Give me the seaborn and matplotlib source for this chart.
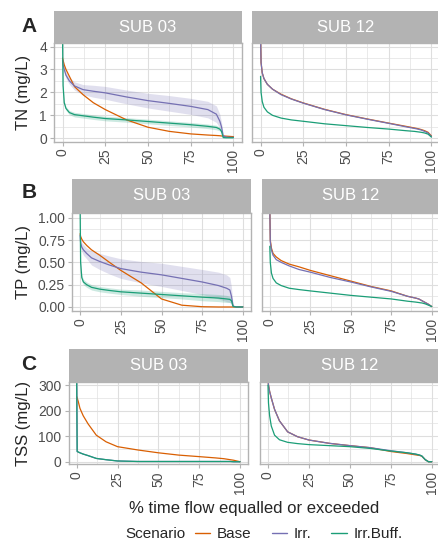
import numpy as np
import pandas as pd
import matplotlib
matplotlib.use('Agg')
import matplotlib.pyplot as plt
import seaborn as sns
from matplotlib.ticker import MultipleLocator
from matplotlib.lines import Line2D

sns.set_style('white')
plt.rcParams['font.family'] = ['Liberation Sans', 'DejaVu Sans']

# % time flow equalled or exceeded (shared grid for all curves)
pct = [0, 0.3, 1, 2, 4, 7, 12, 18, 25, 37.5, 50, 62.5, 75, 85, 90, 92, 93, 94, 96, 98, 100]

scenarios = ['Base', 'Irr.', 'Irr.Buff.']
palette = {'Base': '#D95F02', 'Irr.': '#7570B3', 'Irr.Buff.': '#1B9E77'}
subs = ['SUB 03', 'SUB 12']

# TN (mg/L)
tn_03_base = [3.5, 3.4, 3.2, 3.0, 2.7, 2.25, 1.9, 1.55, 1.25, 0.8, 0.48, 0.3, 0.19, 0.14, 0.12, 0.11, 0.1, 0.1, 0.09, 0.08, 0.07]
tn_03_irr = [3.4, 3.2, 3.0, 2.75, 2.5, 2.28, 2.12, 2.05, 1.98, 1.8, 1.64, 1.52, 1.39, 1.25, 1.05, 0.75, 0.5, 0.1, 0.05, 0.04, 0.04]
tn_03_buff = [4.4, 2.3, 1.55, 1.3, 1.12, 1.03, 0.98, 0.92, 0.86, 0.8, 0.73, 0.66, 0.59, 0.52, 0.47, 0.4, 0.3, 0.03, 0.02, 0.02, 0.02]
tn_03_irr_band = [0.1, 0.12, 0.13, 0.14, 0.15, 0.18, 0.22, 0.26, 0.28, 0.3, 0.32, 0.34, 0.35, 0.36, 0.36, 0.3, 0.2, 0.05, 0, 0, 0]
tn_03_buff_band = [0.05, 0.06, 0.07, 0.08, 0.09, 0.1, 0.1, 0.1, 0.1, 0.1, 0.1, 0.1, 0.1, 0.1, 0.1, 0.08, 0.06, 0.01, 0, 0, 0]
tn_12_base = [4.4, 3.3, 2.85, 2.6, 2.35, 2.14, 1.92, 1.72, 1.54, 1.26, 1.03, 0.84, 0.66, 0.52, 0.45, 0.42, 0.4, 0.38, 0.33, 0.26, 0.1]
tn_12_irr = [4.4, 3.3, 2.85, 2.6, 2.35, 2.14, 1.9, 1.71, 1.53, 1.25, 1.02, 0.83, 0.65, 0.5, 0.43, 0.4, 0.38, 0.36, 0.3, 0.23, 0.08]
tn_12_buff = [2.7, 2.0, 1.6, 1.35, 1.15, 1.0, 0.88, 0.8, 0.74, 0.63, 0.55, 0.47, 0.4, 0.33, 0.3, 0.28, 0.27, 0.26, 0.23, 0.18, 0.05]

# TP (mg/L)
tp_03_base = [0.82, 0.79, 0.76, 0.73, 0.69, 0.64, 0.58, 0.5, 0.41, 0.27, 0.09, 0.02, 0.003, 0, 0, 0, 0, 0, 0, 0, 0]
tp_03_irr = [0.8, 0.72, 0.67, 0.64, 0.6, 0.55, 0.51, 0.47, 0.43, 0.39, 0.36, 0.32, 0.28, 0.24, 0.21, 0.19, 0.12, 0.01, 0, 0, 0]
tp_03_buff = [1.1, 0.5, 0.33, 0.28, 0.25, 0.22, 0.2, 0.185, 0.17, 0.155, 0.14, 0.125, 0.11, 0.1, 0.09, 0.085, 0.07, 0.005, 0, 0, 0]
tp_03_irr_band = [0.04, 0.05, 0.05, 0.06, 0.06, 0.08, 0.09, 0.1, 0.11, 0.12, 0.13, 0.135, 0.14, 0.15, 0.15, 0.14, 0.1, 0.01, 0, 0, 0]
tp_03_buff_band = [0.02, 0.025, 0.03, 0.03, 0.03, 0.03, 0.03, 0.03, 0.03, 0.035, 0.035, 0.035, 0.04, 0.04, 0.04, 0.035, 0.03, 0, 0, 0, 0]
tp_12_base = [1.1, 0.75, 0.66, 0.6, 0.56, 0.52, 0.48, 0.45, 0.41, 0.35, 0.29, 0.23, 0.18, 0.12, 0.1, 0.09, 0.08, 0.07, 0.05, 0.03, 0.005]
tp_12_irr = [1.1, 0.73, 0.64, 0.58, 0.53, 0.5, 0.46, 0.42, 0.39, 0.33, 0.28, 0.225, 0.175, 0.12, 0.1, 0.09, 0.08, 0.07, 0.05, 0.03, 0.005]
tp_12_buff = [0.68, 0.5, 0.38, 0.32, 0.27, 0.24, 0.21, 0.195, 0.18, 0.155, 0.13, 0.11, 0.09, 0.065, 0.055, 0.05, 0.047, 0.045, 0.035, 0.02, 0.005]

# TSS (mg/L)
tss_03_base = [255, 250, 235, 209, 180, 148, 104, 78, 59, 46, 35, 26, 20, 15, 12, 10, 9, 8, 6, 3, 0]
tss_03_irr = [320, 40, 38, 35, 30, 24, 13, 8, 3, 1, 1, 1, 1, 1, 1, 1, 1, 1, 0, 0, 0]
tss_03_buff = [320, 40, 38, 35, 30, 24, 13, 8, 3, 1, 1, 1, 1, 1, 1, 1, 1, 1, 0, 0, 0]
tss_12_base = [320, 300, 275, 250, 205, 160, 117, 98, 85, 72, 63, 55, 40, 32, 27, 25, 24, 21, 8, 0, 0]
tss_12_irr = [320, 300, 275, 250, 205, 160, 117, 98, 85, 72, 63, 55, 43, 35, 30, 27, 25, 22, 8, 0, 0]
tss_12_buff = [300, 230, 180, 140, 104, 86, 76, 71, 67, 63, 59, 52, 42, 35, 30, 27, 25, 22, 8, 0, 0]


def long_frame(base, irr, buff):
    return pd.DataFrame({
        'pct': pct * 3,
        'value': base + irr + buff,
        'Scenario': np.repeat(scenarios, len(pct)),
    })


panels = {
    ('TN', 'SUB 03'): long_frame(tn_03_base, tn_03_irr, tn_03_buff),
    ('TN', 'SUB 12'): long_frame(tn_12_base, tn_12_irr, tn_12_buff),
    ('TP', 'SUB 03'): long_frame(tp_03_base, tp_03_irr, tp_03_buff),
    ('TP', 'SUB 12'): long_frame(tp_12_base, tp_12_irr, tp_12_buff),
    ('TSS', 'SUB 03'): long_frame(tss_03_base, tss_03_irr, tss_03_buff),
    ('TSS', 'SUB 12'): long_frame(tss_12_base, tss_12_irr, tss_12_buff),
}
bands = {
    ('TN', 'SUB 03'): [(tn_03_irr, tn_03_irr_band, 'Irr.'), (tn_03_buff, tn_03_buff_band, 'Irr.Buff.')],
    ('TP', 'SUB 03'): [(tp_03_irr, tp_03_irr_band, 'Irr.'), (tp_03_buff, tp_03_buff_band, 'Irr.Buff.')],
}

# layout in pixels
W, H = 438, 542
fig = plt.figure(figsize=(W / 100, H / 100), dpi=100)


def box(x0, y0, x1, y1):
    return [x0 / W, 1 - y1 / H, (x1 - x0) / W, (y1 - y0) / H]


rows = [
    dict(var='TN', letter='A', ylabel='TN (mg/L)', strip=11, top=43.3, bottom=141.7,
         xs=[(54, 242), (252, 440)], ylim=(-0.15, 4.14), yticks=[0, 1, 2, 3, 4],
         ylabels=['0', '1', '2', '3', '4'], minor=0.5, letter_y=26),
    dict(var='TP', letter='B', ylabel='TP (mg/L)', strip=179.3, top=212.7, bottom=311,
         xs=[(72, 251), (261.7, 439.8)], ylim=(-0.045, 1.056), yticks=[0, 0.25, 0.5, 0.75, 1.0],
         ylabels=['0.00', '0.25', '0.50', '0.75', '1.00'], minor=0.125, letter_y=192),
    dict(var='TSS', letter='C', ylabel='TSS (mg/L)', strip=349.3, top=382, bottom=464.3,
         xs=[(68.5, 248.2), (259.8, 440)], ylim=(-10, 312), yticks=[0, 100, 200, 300],
         ylabels=['0', '100', '200', '300'], minor=50, letter_y=364),
]

grid_col = '#DEDEDE'
border_col = '#B3B3B3'
tick_col = '#4D4D4D'

for row in rows:
    for j, (sub, (x0, x1)) in enumerate(zip(subs, row['xs'])):
        ax = fig.add_axes(box(x0, row['top'], x1, row['bottom']))
        key = (row['var'], sub)
        for line, half, scen in bands.get(key, []):
            lo = np.array(line) - np.array(half)
            hi = np.array(line) + np.array(half)
            ax.fill_between(pct, lo, hi, color=palette[scen], alpha=0.22, linewidth=0)
        sns.lineplot(data=panels[key], x='pct', y='value', hue='Scenario',
                     hue_order=scenarios, palette=palette, linewidth=0.9,
                     legend=False, ax=ax)
        ax.set_xlim(-5, 105)
        ax.set_ylim(*row['ylim'])
        ax.set_xticks([0, 25, 50, 75, 100])
        ax.set_xticklabels(['0', '25', '50', '75', '100'], rotation=90)
        ax.xaxis.set_minor_locator(MultipleLocator(12.5))
        ax.set_yticks(row['yticks'])
        ax.yaxis.set_minor_locator(MultipleLocator(row['minor']))
        if j == 0:
            ax.set_yticklabels(row['ylabels'])
            ax.tick_params(axis='y', which='major', length=3, color=border_col,
                           labelsize=10, labelcolor=tick_col, pad=2, left=True)
        else:
            ax.set_yticklabels([])
            ax.tick_params(axis='y', which='major', length=0, left=False)
        ax.tick_params(axis='x', which='major', length=3, color=border_col,
                       labelsize=10, labelcolor=tick_col, pad=2, bottom=True)
        ax.tick_params(which='minor', length=0)
        ax.grid(True, which='major', color=grid_col, linewidth=0.8)
        ax.grid(True, which='minor', color=grid_col, linewidth=0.45)
        ax.set_axisbelow(True)
        for s in ax.spines.values():
            s.set_color(border_col)
            s.set_linewidth(1.0)
        ax.set_xlabel('')
        ax.set_ylabel('')

        sax = fig.add_axes(box(x0, row['strip'], x1, row['top']))
        sax.set_facecolor(border_col)
        sax.set_xticks([])
        sax.set_yticks([])
        for s in sax.spines.values():
            s.set_visible(False)
        sax.text(0.5, 0.5, sub, color='white', fontsize=12, ha='center', va='center',
                 transform=sax.transAxes)

    fig.text(24 / W, 1 - (row['top'] + row['bottom']) / 2 / H, row['ylabel'],
             rotation=90, ha='center', va='center', fontsize=12)
    fig.text(29 / W, 1 - row['letter_y'] / H, row['letter'], ha='center', va='center',
             fontsize=15, fontweight='bold')

fig.text(254.5 / W, 1 - 509 / H, '% time flow equalled or exceeded',
         ha='center', va='center', fontsize=12)

fig.text(125 / W, 1 - 534 / H, 'Scenario', ha='left', va='center', fontsize=11)
handles = [Line2D([0], [0], color=palette[s], linewidth=1.0) for s in scenarios]
fig.legend(handles, scenarios, loc='center left', bbox_to_anchor=(195 / W, 1 - 534 / H),
           ncol=3, frameon=False, fontsize=11, handlelength=1.0, handletextpad=0.45,
           columnspacing=1.3, borderpad=0, borderaxespad=0)

fig.savefig('out.png', dpi=100)
